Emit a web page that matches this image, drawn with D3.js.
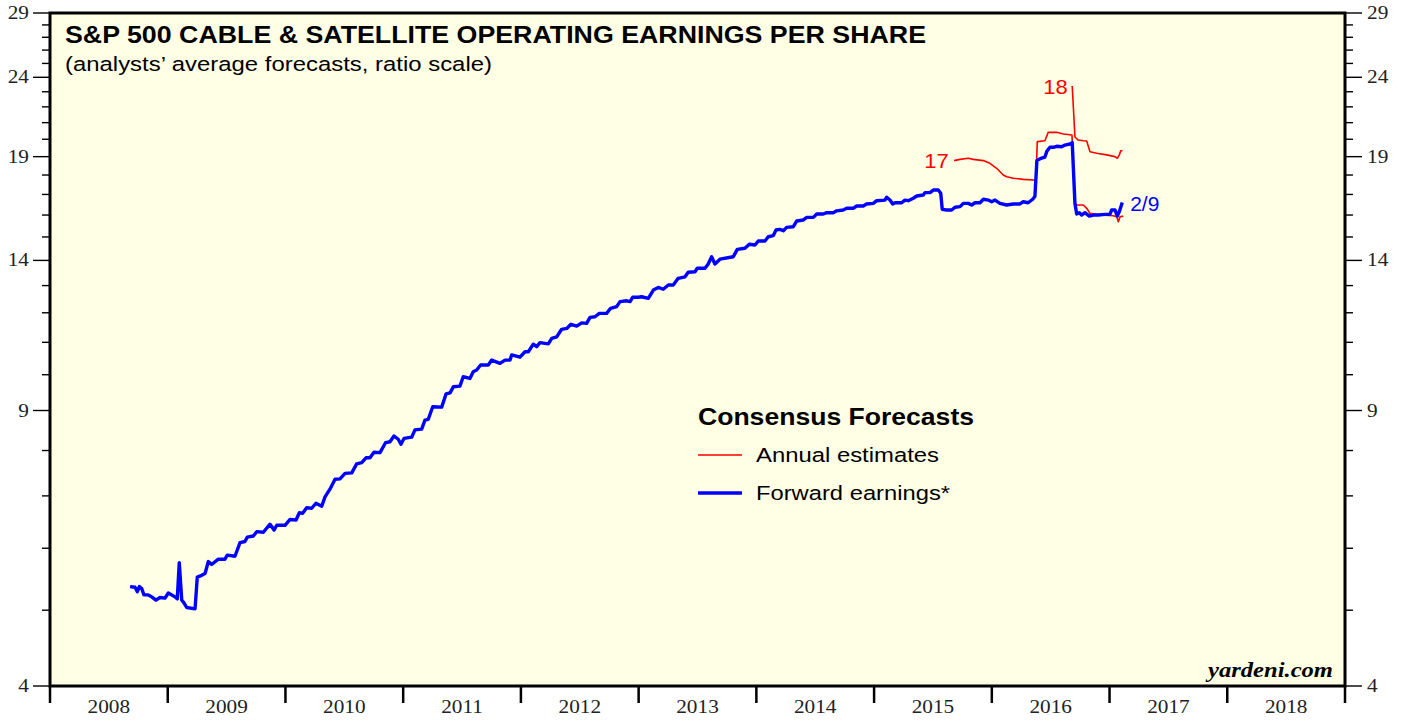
<!DOCTYPE html>
<html>
<head>
<meta charset="utf-8">
<script src="https://cdn.jsdelivr.net/npm/d3@7"></script>
<style>
  html, body { margin: 0; padding: 0; background: #ffffff; }
  svg { display: block; }
</style>
</head>
<body>
<svg id="chart" width="1405" height="721"></svg>
<script>
// ---------------- DATA ----------------
const yearLabels = ["2008","2009","2010","2011","2012","2013","2014","2015","2016","2017","2018"];
const yMajorTicks = [4, 9, 14, 19, 24, 29];
const yMinorTicks = [5,6,7,8,10,11,12,13,15,16,17,18,20,21,22,23,25,26,27,28];

// Forward earnings (decimal year, value)
const fwdDates = [
2008.680,2008.722,2008.742,2008.759,2008.779,2008.798,2008.835,2008.864,2008.900,2008.934,
2008.977,2009.005,2009.062,2009.081,2009.098,2009.119,2009.138,2009.161,2009.232,2009.251,
2009.289,2009.317,2009.345,2009.373,2009.430,2009.486,2009.506,2009.571,2009.614,2009.656,
2009.676,2009.727,2009.756,2009.812,2009.869,2009.903,2009.926,2009.996,2010.039,2010.090,
2010.118,2010.146,2010.180,2010.223,2010.259,2010.308,2010.336,2010.378,2010.421,2010.463,
2010.506,2010.563,2010.605,2010.648,2010.684,2010.718,2010.752,2010.803,2010.851,2010.888,
2010.922,2010.958,2010.981,2011.007,2011.072,2011.100,2011.157,2011.185,2011.213,2011.251,
2011.327,2011.364,2011.398,2011.426,2011.482,2011.510,2011.567,2011.595,2011.624,2011.658,
2011.723,2011.752,2011.822,2011.865,2011.907,2011.922,2011.992,2012.035,2012.063,2012.105,
2012.134,2012.162,2012.233,2012.262,2012.304,2012.346,2012.389,2012.425,2012.474,2012.516,
2012.558,2012.587,2012.629,2012.666,2012.728,2012.762,2012.813,2012.842,2012.899,2012.927,
2012.949,2012.997,2013.026,2013.082,2013.125,2013.167,2013.209,2013.252,2013.294,2013.336,
2013.394,2013.421,2013.479,2013.498,2013.564,2013.591,2013.620,2013.648,2013.691,2013.804,
2013.838,2013.903,2013.940,2013.988,2014.016,2014.073,2014.101,2014.144,2014.167,2014.201,
2014.229,2014.257,2014.314,2014.342,2014.399,2014.428,2014.484,2014.513,2014.569,2014.597,
2014.653,2014.682,2014.738,2014.767,2014.823,2014.852,2014.908,2014.936,2014.993,2015.022,
2015.092,2015.107,2015.135,2015.158,2015.177,2015.234,2015.262,2015.290,2015.333,2015.362,
2015.418,2015.432,2015.475,2015.503,2015.545,2015.566,2015.579,2015.616,2015.659,2015.687,
2015.730,2015.758,2015.800,2015.829,2015.857,2015.900,2015.928,2015.970,2015.999,2016.027,
2016.069,2016.126,2016.182,2016.239,2016.267,2016.309,2016.347,2016.366,2016.383,2016.423,
2016.451,2016.468,2016.494,2016.522,2016.551,2016.593,2016.621,2016.664,2016.683,2016.706,
2016.721,2016.743,2016.763,2016.791,2016.828,2016.862,2016.904,2016.961,2017.003,2017.018,
2017.046,2017.066,2017.083,2017.108
];
const fwdValues = [
5.36,5.35,5.28,5.36,5.33,5.23,5.23,5.20,5.15,5.19,
5.18,5.26,5.20,5.17,5.75,5.15,5.11,5.04,5.02,5.51,
5.54,5.57,5.77,5.72,5.81,5.81,5.88,5.86,6.10,6.12,
6.20,6.22,6.30,6.29,6.44,6.33,6.42,6.42,6.53,6.52,
6.66,6.65,6.76,6.75,6.85,6.79,6.98,7.14,7.35,7.36,
7.48,7.49,7.69,7.72,7.83,7.83,7.96,7.95,8.19,8.21,
8.35,8.27,8.15,8.29,8.32,8.50,8.52,8.75,8.77,9.10,
9.09,9.45,9.48,9.65,9.67,9.94,9.89,10.09,10.14,10.29,
10.29,10.44,10.34,10.44,10.44,10.60,10.53,10.70,10.70,10.94,
10.86,10.99,10.95,11.13,11.18,11.43,11.46,11.60,11.54,11.65,
11.63,11.84,11.86,11.98,11.98,12.16,12.22,12.40,12.43,12.40,
12.56,12.56,12.58,12.52,12.83,12.93,12.86,13.02,13.02,13.28,
13.34,13.52,13.54,13.68,13.68,13.85,14.15,13.85,14.05,14.15,
14.46,14.51,14.68,14.65,14.82,14.82,15.01,15.06,15.31,15.34,
15.28,15.43,15.46,15.72,15.77,15.89,15.89,16.05,16.05,16.11,
16.11,16.20,16.24,16.32,16.32,16.43,16.43,16.53,16.56,16.69,
16.72,16.86,16.72,16.53,16.59,16.59,16.72,16.69,16.81,16.92,
16.97,17.09,17.09,17.22,17.22,17.06,16.27,16.24,16.24,16.37,
16.40,16.56,16.56,16.48,16.59,16.59,16.76,16.72,16.64,16.72,
16.56,16.48,16.53,16.53,16.64,16.59,16.76,16.90,18.79,18.92,
18.98,19.31,19.53,19.53,19.59,19.56,19.66,19.72,19.80,16.56,
16.05,16.11,16.00,16.11,15.95,16.00,16.00,16.03,16.03,16.24,
16.24,15.95,16.16,16.60
];

// Annual estimates, 2017
const est17Dates = [
2015.679,2015.730,2015.800,2015.843,2015.928,2015.984,2016.041,2016.097,2016.126,2016.182,
2016.267,2016.352,2016.375,2016.386,2016.451,2016.479,2016.551,2016.607,2016.681,2016.706,
2016.721,2016.777,2016.806,2016.834,2016.919,2017.032,2017.061,2017.075,2017.089,2017.117
];
const est17Values = [
18.78,18.85,18.91,18.85,18.78,18.63,18.36,18.00,17.91,17.83,
17.77,17.74,17.74,19.86,19.91,20.41,20.41,20.31,20.25,16.56,
16.48,16.48,16.32,16.08,16.00,15.97,15.92,15.69,15.92,15.95
];

// Annual estimates, 2018
const est18Dates = [
2016.683,2016.706,2016.734,2016.777,2016.806,2016.834,2016.891,2016.976,2017.046,2017.066,
2017.083,2017.095,2017.110
];
const est18Values = [
23.39,20.13,19.95,19.91,19.90,19.28,19.19,19.10,19.00,18.91,
19.10,19.33,19.33
];

// ---------------- CHART ----------------
const svg = d3.select("#chart");
const L = 50, R = 1345, T = 13, B = 686;

const x = d3.scaleLinear().domain([2008, 2019]).range([L, R]);
const y = d3.scaleLog().domain([4, 29]).range([B, T]);

// horizontally stretched text helper (reference glyphs are wider than normal)
function placeText(sel, px, py, sx) {
  return sel.attr("transform", `translate(${px},${py}) scale(${sx},1)`);
}

// plot background
svg.append("rect")
  .attr("x", L).attr("y", T).attr("width", R - L).attr("height", B - T)
  .attr("fill", "#ffffe5");

// axis ticks (left / right)
const tickG = svg.append("g").attr("stroke", "#000").attr("stroke-width", 1.4);
yMinorTicks.forEach(v => {
  tickG.append("line").attr("x1", L - 8).attr("x2", L).attr("y1", y(v)).attr("y2", y(v));
  tickG.append("line").attr("x1", R).attr("x2", R + 8).attr("y1", y(v)).attr("y2", y(v));
});
yMajorTicks.forEach(v => {
  tickG.append("line").attr("x1", L - 17).attr("x2", L).attr("y1", y(v)).attr("y2", y(v));
  tickG.append("line").attr("x1", R).attr("x2", R + 17).attr("y1", y(v)).attr("y2", y(v));
});

const axisFont = "'Liberation Serif', 'Times New Roman', serif";
const axSx = 1.15;
svg.append("g").selectAll("text").data(yMajorTicks).join("text")
  .attr("transform", d => `translate(29,${y(d) + 6}) scale(${axSx},1)`)
  .attr("text-anchor", "end")
  .attr("font-family", axisFont).attr("font-size", 18.5).attr("fill", "#222")
  .text(d => d);
svg.append("g").selectAll("text").data(yMajorTicks).join("text")
  .attr("transform", d => `translate(1367,${y(d) + 6}) scale(${axSx},1)`)
  .attr("text-anchor", "start")
  .attr("font-family", axisFont).attr("font-size", 18.5).attr("fill", "#222")
  .text(d => d);

// x ticks at year boundaries
const yearBounds = d3.range(2008, 2020);
svg.append("g").selectAll("line").data(yearBounds).join("line")
  .attr("x1", d => x(d)).attr("x2", d => x(d))
  .attr("y1", B).attr("y2", B + 17)
  .attr("stroke", "#000").attr("stroke-width", 2.5);
svg.append("g").selectAll("text").data(yearLabels).join("text")
  .attr("transform", d => `translate(${x(+d + 0.5)},713) scale(${axSx},1)`)
  .attr("text-anchor", "middle")
  .attr("font-family", axisFont).attr("font-size", 18.5).attr("fill", "#222")
  .text(d => d);

// lines
const line = d3.line().x(d => x(d[0])).y(d => y(d[1]));
const zip = (a, b) => a.map((d, i) => [d, b[i]]);

svg.append("path").datum(zip(est17Dates, est17Values))
  .attr("d", line).attr("fill", "none").attr("stroke", "#ff0000").attr("stroke-width", 1.6)
  .attr("stroke-linejoin", "round");
svg.append("path").datum(zip(est18Dates, est18Values))
  .attr("d", line).attr("fill", "none").attr("stroke", "#ff0000").attr("stroke-width", 1.6)
  .attr("stroke-linejoin", "round");
svg.append("path").datum(zip(fwdDates, fwdValues))
  .attr("d", line).attr("fill", "none").attr("stroke", "#0000ff").attr("stroke-width", 3.4)
  .attr("stroke-linejoin", "round");

// frame
svg.append("rect")
  .attr("x", L).attr("y", T).attr("width", R - L).attr("height", B - T)
  .attr("fill", "none").attr("stroke", "#000").attr("stroke-width", 3);

const sans = "'Liberation Sans', Arial, Helvetica, sans-serif";

// title
svg.append("text").attr("x", 65).attr("y", 43)
  .attr("font-family", sans).attr("font-weight", "bold").attr("font-size", 23.5)
  .attr("fill", "#000")
  .attr("textLength", 861).attr("lengthAdjust", "spacingAndGlyphs")
  .text("S&P 500 CABLE & SATELLITE OPERATING EARNINGS PER SHARE");
svg.append("text").attr("x", 65).attr("y", 71)
  .attr("font-family", sans).attr("font-size", 20.5).attr("fill", "#000")
  .attr("textLength", 427).attr("lengthAdjust", "spacingAndGlyphs")
  .text("(analysts\u2019 average forecasts, ratio scale)");

// series labels
placeText(svg.append("text"), x(2015.635), y(18.78) + 7, 1.1)
  .attr("text-anchor", "end")
  .attr("font-family", sans).attr("font-size", 20).attr("fill", "#ff0000").text("17");
placeText(svg.append("text"), x(2016.645), y(23.39) + 8, 1.1)
  .attr("text-anchor", "end")
  .attr("font-family", sans).attr("font-size", 20).attr("fill", "#ff0000").text("18");
placeText(svg.append("text"), x(2017.175), y(16.6) + 8, 1.05)
  .attr("font-family", sans).attr("font-size", 20).attr("fill", "#0000ff").text("2/9");

// legend
svg.append("text").attr("x", 698).attr("y", 425)
  .attr("font-family", sans).attr("font-weight", "bold").attr("font-size", 23)
  .attr("textLength", 276).attr("lengthAdjust", "spacingAndGlyphs")
  .attr("fill", "#000").text("Consensus Forecasts");
svg.append("line").attr("x1", 698).attr("x2", 742).attr("y1", 455).attr("y2", 455)
  .attr("stroke", "#ff0000").attr("stroke-width", 1.6);
svg.append("text").attr("x", 756).attr("y", 462)
  .attr("font-family", sans).attr("font-size", 20.5).attr("fill", "#000")
  .attr("textLength", 183).attr("lengthAdjust", "spacingAndGlyphs")
  .text("Annual estimates");
svg.append("line").attr("x1", 698).attr("x2", 742).attr("y1", 493).attr("y2", 493)
  .attr("stroke", "#0000ff").attr("stroke-width", 3.4);
svg.append("text").attr("x", 756).attr("y", 500)
  .attr("font-family", sans).attr("font-size", 20.5).attr("fill", "#000")
  .attr("textLength", 194).attr("lengthAdjust", "spacingAndGlyphs")
  .text("Forward earnings*");

// source
svg.append("text").attr("x", 1208).attr("y", 677)
  .attr("font-family", axisFont).attr("font-weight", "bold").attr("font-style", "italic")
  .attr("font-size", 20).attr("fill", "#000")
  .attr("textLength", 125).attr("lengthAdjust", "spacingAndGlyphs")
  .text("yardeni.com");
</script>
</body>
</html>
